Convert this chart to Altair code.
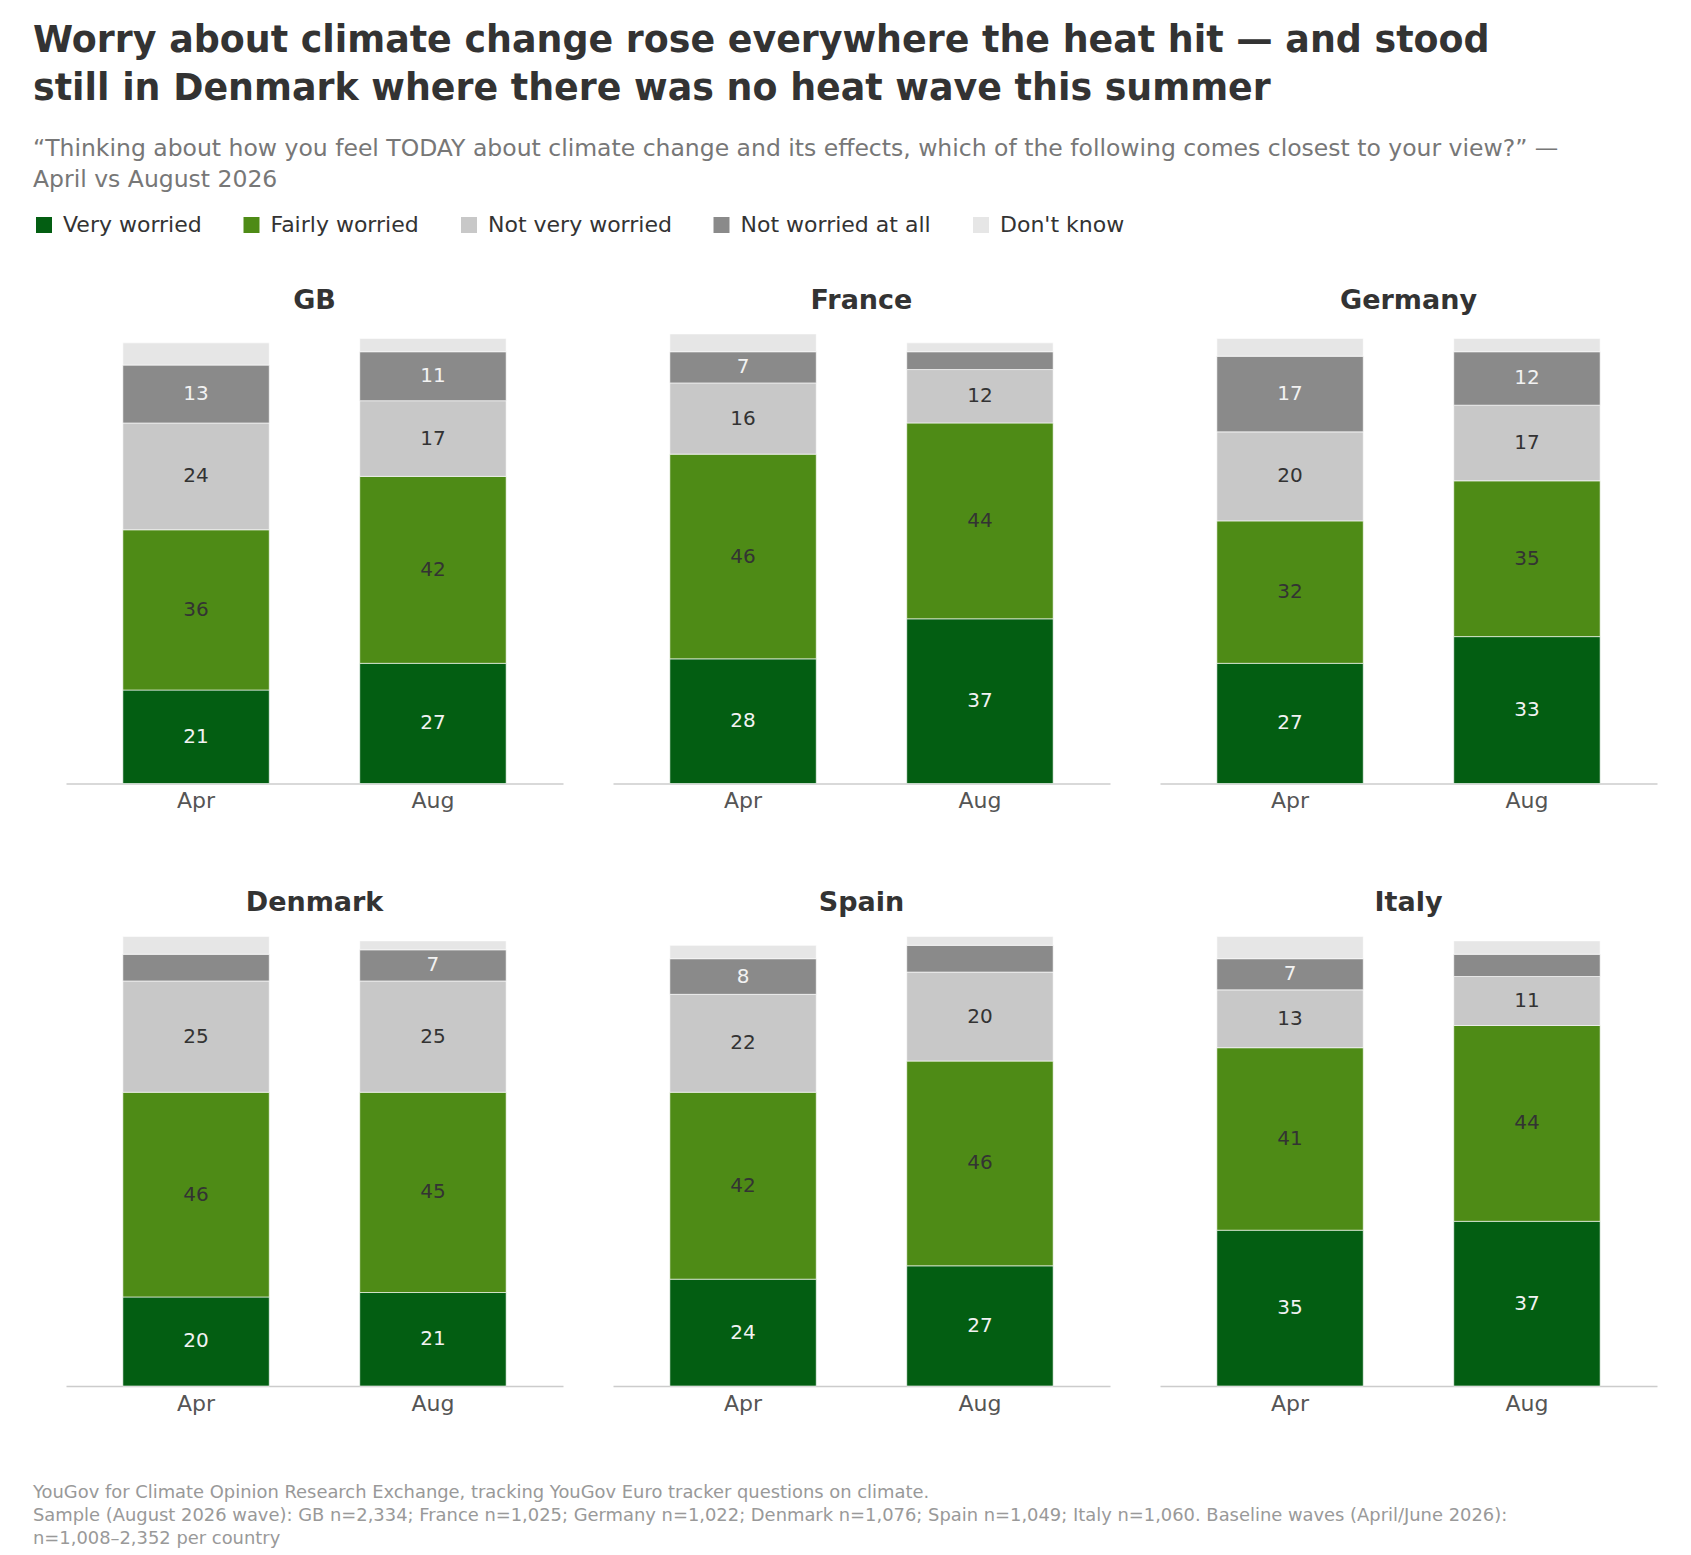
import altair as alt
import pandas as pd

countries = ["GB", "France", "Germany", "Denmark", "Spain", "Italy"]
waves = ["Apr", "Aug"]
categories = ["Very worried", "Fairly worried", "Not very worried", "Not worried at all", "Don't know"]
colors = ["#035e12", "#4e8b16", "#c8c8c8", "#8a8a8a", "#e6e6e6"]

very_worried = {"GB": [21, 27], "France": [28, 37], "Germany": [27, 33],
                "Denmark": [20, 21], "Spain": [24, 27], "Italy": [35, 37]}
fairly_worried = {"GB": [36, 42], "France": [46, 44], "Germany": [32, 35],
                  "Denmark": [46, 45], "Spain": [42, 46], "Italy": [41, 44]}
not_very_worried = {"GB": [24, 17], "France": [16, 12], "Germany": [20, 17],
                    "Denmark": [25, 25], "Spain": [22, 20], "Italy": [13, 11]}
not_worried_at_all = {"GB": [13, 11], "France": [7, 4], "Germany": [17, 12],
                      "Denmark": [6, 7], "Spain": [8, 6], "Italy": [7, 5]}
dont_know = {"GB": [5, 3], "France": [4, 2], "Germany": [4, 3],
             "Denmark": [4, 2], "Spain": [3, 2], "Italy": [5, 3]}

title_lines = ["Worry about climate change rose everywhere the heat hit \u2014 and stood",
               "still in Denmark where there was no heat wave this summer"]
subtitle_lines = ["\u201cThinking about how you feel TODAY about climate change and its effects, which of the following comes closest to your view?\u201d \u2014",
                  "April vs August 2026"]
footer_lines = ["YouGov for Climate Opinion Research Exchange, tracking YouGov Euro tracker questions on climate.",
                "Sample (August 2026 wave): GB n=2,334; France n=1,025; Germany n=1,022; Denmark n=1,076; Spain n=1,049; Italy n=1,060. Baseline waves (April/June 2026):",
                "n=1,008\u20132,352 per country"]

series = [very_worried, fairly_worried, not_very_worried, not_worried_at_all, dont_know]
rows = []
for ci, cat in enumerate(categories):
    for country in countries:
        for wi, wave in enumerate(waves):
            rows.append({"country": country, "wave": wave, "category": cat,
                         "ord": ci, "value": series[ci][country][wi]})
df = pd.DataFrame(rows)

FONT = "DejaVu Sans"

x_enc = alt.X("wave:N", sort=waves,
              scale=alt.Scale(paddingInner=0.382, paddingOuter=0.24),
              axis=alt.Axis(title=None, labelAngle=0, ticks=False, domainColor="#cccccc",
                            domainWidth=1.5, labelFontSize=22, labelColor="#555555",
                            labelPadding=7, labelFont=FONT))

bars = alt.Chart().mark_bar(stroke="white", strokeWidth=0.6).encode(
    x=x_enc,
    y=alt.Y("v0:Q", scale=alt.Scale(domain=[0, 102], nice=False, zero=True), axis=None),
    y2="v1:Q",
    color=alt.Color("category:N", scale=alt.Scale(domain=categories, range=colors),
                    legend=alt.Legend(title=None, orient="none", legendX=-33, legendY=-115.5,
                                      direction="horizontal", symbolType="square",
                                      symbolSize=256, symbolStrokeWidth=0,
                                      labelFontSize=22, labelColor="#333333", labelFont=FONT,
                                      labelLimit=500, columnPadding=38.5, labelOffset=8)),
)

text_light = alt.Chart().transform_filter(
    "datum.value >= 7 && (datum.ord == 0 || datum.ord == 3)"
).mark_text(fontSize=20, font=FONT, color="#f2f2f2").encode(
    x=alt.X("wave:N", sort=waves), y=alt.Y("mid:Q"), text="value:Q")

text_dark = alt.Chart().transform_filter(
    "datum.value >= 7 && (datum.ord == 1 || datum.ord == 2)"
).mark_text(fontSize=20, font=FONT, color="#333333").encode(
    x=alt.X("wave:N", sort=waves), y=alt.Y("mid:Q"), text="value:Q")

panel = alt.layer(bars, text_light, text_dark, data=df).transform_stack(
    stack="value", groupby=["country", "wave"], as_=["v0", "v1"],
    sort=[alt.SortField("ord", order="ascending")]
).transform_calculate(mid="(datum.v0 + datum.v1) / 2").properties(width=497, height=454)

grid = panel.facet(
    facet=alt.Facet("country:N", sort=countries, title=None,
                    header=alt.Header(labelFontSize=27, labelFontWeight="bold",
                                      labelColor="#333333", labelFont=FONT, labelPadding=15)),
    columns=3,
    spacing={"row": 77.5, "column": 50},
).resolve_axis(x="independent")

footer = alt.Chart(pd.DataFrame({"i": [0, 1, 2], "line": footer_lines})).mark_text(
    align="left", baseline="middle", fontSize=17.9, color="#999999", font=FONT, dx=-33
).encode(
    y=alt.Y("i:O", axis=None),
    x=alt.value(0),
    text="line:N",
).properties(width=1591, height=69)

chart = alt.vconcat(grid, footer, spacing=67).properties(
    title=alt.TitleParams(
        text=title_lines, subtitle=subtitle_lines, anchor="start",
        fontSize=36.4, font=FONT, fontWeight="bold", color="#333333", lineHeight=48,
        subtitleFontSize=23.5, subtitleColor="#777777", subtitleFont=FONT,
        subtitleLineHeight=31, subtitlePadding=29, offset=23),
    padding={"left": 25, "top": 14.5, "right": 10, "bottom": 5},
).configure_view(stroke=None)

chart.save("out.html", embed_options={"renderer": "svg", "actions": False})
